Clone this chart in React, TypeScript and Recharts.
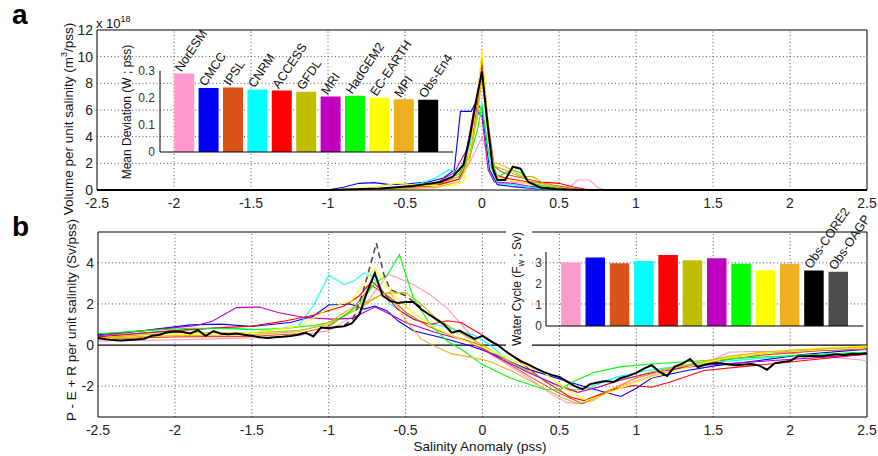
import React from "react";
import {
  LineChart,
  Line,
  XAxis,
  YAxis,
  ReferenceLine,
  BarChart,
  Bar,
  Cell,
  LabelList,
} from "recharts";

const SANS = '"Liberation Sans", Arial, Helvetica, sans-serif';

const MODEL_NAMES = ["NorESM", "CMCC", "IPSL", "CNRM", "ACCESS", "GFDL", "MRI", "HadGEM2", "EC-EARTH", "MPI"];
const MODEL_COLORS = ["#FF99CC", "#0000FF", "#D95319", "#00FFFF", "#FF0000", "#BFBF00", "#BF00BF", "#00FF00", "#FFFF00", "#EDB120"];

const SAL_TICKS = [-2.5, -2, -1.5, -1, -0.5, 0, 0.5, 1, 1.5, 2, 2.5];
const VOL_TICKS = [0, 2, 4, 6, 8, 10, 12];
const FLUX_TICKS = [-2, 0, 2, 4];
const SAL_DOMAIN: [number, number] = [-2.5, 2.5];
const VOL_DOMAIN: [number, number] = [0, 12];
const FLUX_DOMAIN: [number, number] = [-3.5, 5.5];

// panel a: volume per unit salinity (x 1e18 m3/pss), [salinity anomaly, value]
const volNorESM: [number, number][] = [[-2.5, 0], [-1, 0], [-0.6, 0.05], [-0.3, 0.3], [-0.15, 0.8], [-0.08, 2], [0, 4], [0.05, 2.2], [0.1, 1], [0.2, 0.6], [0.35, 0.4], [0.5, 0.2], [0.58, 0.3], [0.62, 0.75], [0.7, 0.75], [0.75, 0.2], [0.8, 0], [2.5, 0]];
const volCMCC: [number, number][] = [[-2.5, 0], [-1, 0], [-0.9, 0.2], [-0.8, 0.5], [-0.7, 0.55], [-0.6, 0.4], [-0.5, 0.45], [-0.35, 0.6], [-0.25, 0.9], [-0.18, 1.5], [-0.14, 5.9], [-0.07, 5.9], [-0.04, 6.6], [0, 6], [0.05, 1.5], [0.1, 0.4], [0.2, 0.25], [0.35, 0.1], [0.5, 0.05], [0.6, 0], [2.5, 0]];
const volIPSL: [number, number][] = [[-2.5, 0], [-1, 0], [-0.6, 0.1], [-0.3, 0.4], [-0.15, 1], [-0.08, 2.8], [-0.03, 7], [0, 10], [0.04, 5], [0.08, 1.8], [0.12, 1.4], [0.18, 1.1], [0.3, 0.8], [0.45, 0.4], [0.6, 0.1], [0.7, 0], [2.5, 0]];
const volCNRM: [number, number][] = [[-2.5, 0], [-1, 0], [-0.6, 0.1], [-0.4, 0.5], [-0.3, 0.9], [-0.22, 1.5], [-0.15, 1.4], [-0.1, 2.5], [-0.05, 4.8], [0, 6.5], [0.05, 2], [0.1, 0.5], [0.2, 0.4], [0.3, 0.2], [0.45, 0.05], [0.55, 0], [2.5, 0]];
const volACCESS: [number, number][] = [[-2.5, 0], [-1, 0], [-0.6, 0.1], [-0.3, 0.35], [-0.15, 0.8], [-0.08, 2.5], [-0.03, 6.5], [0, 9.4], [0.04, 4.5], [0.08, 1.2], [0.15, 0.9], [0.3, 0.6], [0.45, 0.55], [0.5, 0.5], [0.6, 0.2], [0.7, 0], [2.5, 0]];
const volGFDL: [number, number][] = [[-2.5, 0], [-1, 0], [-0.6, 0.1], [-0.3, 0.4], [-0.15, 1], [-0.08, 2.5], [-0.03, 5.5], [0, 8.5], [0.04, 4], [0.08, 1.8], [0.15, 1.5], [0.25, 1], [0.33, 1], [0.4, 0.5], [0.55, 0.1], [0.65, 0], [2.5, 0]];
const volMRI: [number, number][] = [[-2.5, 0], [-1, 0], [-0.6, 0.15], [-0.3, 0.5], [-0.18, 1.3], [-0.1, 3], [-0.05, 6.2], [0, 5.5], [0.04, 1.5], [0.08, 0.6], [0.2, 0.5], [0.3, 0.3], [0.45, 0.1], [0.55, 0], [2.5, 0]];
const volHadGEM2: [number, number][] = [[-2.5, 0], [-1, 0], [-0.6, 0.1], [-0.3, 0.5], [-0.15, 1.2], [-0.08, 2.5], [-0.03, 4.5], [0, 6.3], [0.04, 3], [0.1, 1], [0.2, 1.5], [0.25, 1.3], [0.3, 0.6], [0.4, 0.3], [0.55, 0.05], [0.6, 0], [2.5, 0]];
const volECEARTH: [number, number][] = [[-2.5, 0], [-1, 0], [-0.7, 0.2], [-0.55, 0.5], [-0.4, 0.35], [-0.2, 0.3], [-0.12, 0.6], [-0.07, 3.5], [-0.02, 8], [0, 10.5], [0.03, 6], [0.07, 1.5], [0.12, 0.8], [0.25, 0.6], [0.35, 0.3], [0.5, 0.05], [0.6, 0], [2.5, 0]];
const volMPI: [number, number][] = [[-2.5, 0], [-1, 0], [-0.6, 0.05], [-0.3, 0.2], [-0.15, 0.6], [-0.08, 2.2], [-0.03, 6], [0, 9], [0.04, 4], [0.07, 2], [0.1, 2], [0.18, 1.6], [0.3, 0.7], [0.45, 0.3], [0.6, 0.05], [0.7, 0], [2.5, 0]];
const volObsEn4: [number, number][] = [[-2.5, 0], [-1, 0], [-0.66, 0.12], [-0.45, 0.3], [-0.27, 0.6], [-0.19, 1], [-0.12, 1.9], [-0.08, 3.9], [-0.035, 6.9], [0, 8.9], [0.03, 5.6], [0.07, 1.6], [0.1, 0.75], [0.15, 0.75], [0.2, 1.75], [0.25, 1.6], [0.3, 0.6], [0.38, 0.18], [0.48, 0.08], [0.6, 0.02], [1, 0], [2.5, 0]];

// panel b: P - E + R per unit salinity (Sv/pss)
const pmeNorESM: [number, number][] = [[-2.5, 0.2], [-2, 0.25], [-1.5, 0.35], [-1.2, 0.45], [-1, 0.7], [-0.8, 1.6], [-0.7, 2.6], [-0.61, 3.45], [-0.45, 2.95], [-0.34, 2.45], [-0.23, 1.8], [-0.12, 0.85], [0, -0.2], [0.15, -0.9], [0.3, -1.6], [0.45, -2.4], [0.55, -2.8], [0.65, -2.85], [0.75, -2.5], [0.9, -2], [1.1, -1.5], [1.3, -1.1], [1.5, -0.7], [1.6, -0.35], [1.8, -0.3], [2, -0.4], [2.2, -0.55], [2.5, -0.75]];
const pmeCMCC: [number, number][] = [[-2.5, 0.5], [-2.2, 0.7], [-1.9, 0.98], [-1.7, 1.02], [-1.5, 0.9], [-1.25, 1.1], [-1.1, 1.4], [-1, 1.95], [-0.86, 2], [-0.77, 1.75], [-0.7, 1.9], [-0.62, 1.66], [-0.55, 1.18], [-0.45, 0.7], [-0.27, 0.37], [-0.08, -0.03], [0.07, -0.44], [0.29, -1.16], [0.5, -1.65], [0.7, -2.1], [0.9, -2.5], [1, -2.1], [1.1, -1.6], [1.33, -1.24], [1.52, -1], [1.8, -0.75], [2.1, -0.45], [2.5, -0.2]];
const pmeIPSL: [number, number][] = [[-2.5, 0.3], [-2, 0.4], [-1.5, 0.42], [-1.2, 0.55], [-1, 0.9], [-0.85, 1.7], [-0.72, 2.9], [-0.6, 2.3], [-0.5, 1.6], [-0.35, 0.9], [-0.2, 0.45], [-0.05, 0.1], [0.1, -0.6], [0.3, -1.5], [0.5, -2.35], [0.65, -2.85], [0.8, -2.3], [1, -1.6], [1.2, -1.2], [1.4, -0.95], [1.6, -0.7], [1.8, -0.5], [2, -0.38], [2.2, -0.28], [2.5, -0.2]];
const pmeCNRM: [number, number][] = [[-2.5, 0.45], [-2, 0.7], [-1.7, 0.85], [-1.4, 0.72], [-1.2, 0.9], [-1.1, 1.9], [-1, 3.4], [-0.9, 2.95], [-0.84, 3.1], [-0.77, 3.5], [-0.72, 3.35], [-0.66, 2.8], [-0.6, 2], [-0.49, 1.42], [-0.38, 1.1], [-0.27, 0.94], [-0.16, 0.7], [-0.06, 0.5], [0.05, 0], [0.18, -0.84], [0.4, -1.65], [0.57, -2.2], [0.7, -2.05], [0.87, -1.56], [1.07, -1.24], [1.3, -1], [1.6, -0.78], [2, -0.52], [2.5, -0.35]];
const pmeACCESS: [number, number][] = [[-2.5, 0.4], [-2, 0.7], [-1.7, 0.85], [-1.5, 0.92], [-1.3, 1.15], [-1.1, 1.45], [-0.9, 1.9], [-0.8, 2.4], [-0.72, 3.1], [-0.66, 2.7], [-0.55, 1.74], [-0.45, 1.26], [-0.34, 1], [-0.23, 1.18], [-0.14, 1.1], [-0.01, 0.53], [0.18, -0.44], [0.4, -1.73], [0.57, -2.53], [0.66, -2.7], [0.72, -2.53], [0.83, -2.2], [0.98, -1.97], [1.1, -2.05], [1.22, -1.8], [1.44, -1.24], [1.76, -1], [2.19, -0.68], [2.5, -0.44]];
const pmeGFDL: [number, number][] = [[-2.5, 0.35], [-2, 0.6], [-1.5, 0.6], [-1.2, 0.7], [-1, 1], [-0.8, 1.8], [-0.65, 2.5], [-0.5, 2.55], [-0.4, 2], [-0.3, 1.3], [-0.15, 0.6], [0, 0], [0.15, -0.7], [0.3, -1.3], [0.45, -1.85], [0.6, -2.2], [0.75, -2.05], [0.9, -1.7], [1.1, -1.3], [1.3, -1], [1.5, -0.75], [1.7, -0.5], [1.9, -0.35], [2.1, -0.25], [2.3, -0.15], [2.5, -0.1]];
const pmeMRI: [number, number][] = [[-2.5, 0.45], [-2.2, 0.7], [-2, 0.85], [-1.87, 0.94], [-1.76, 1.15], [-1.6, 1.82], [-1.45, 1.85], [-1.33, 1.58], [-1.16, 1.34], [-0.98, 1.26], [-0.85, 1.3], [-0.7, 1.85], [-0.6, 1.5], [-0.5, 1.1], [-0.3, 0.6], [-0.1, 0.2], [0.1, -0.6], [0.3, -1.35], [0.5, -2], [0.62, -2.3], [0.75, -2.05], [0.9, -1.7], [1.1, -1.35], [1.4, -1], [1.8, -0.8], [2.2, -0.6], [2.5, -0.45]];
const pmeHadGEM2: [number, number][] = [[-2.5, 0.55], [-2.2, 0.7], [-1.9, 0.82], [-1.7, 0.82], [-1.5, 0.75], [-1.3, 0.8], [-1.1, 0.95], [-1, 1.1], [-0.9, 1.4], [-0.8, 2], [-0.7, 3], [-0.62, 3.4], [-0.54, 4.4], [-0.45, 2.3], [-0.34, 1], [-0.23, 0.2], [-0.12, -0.3], [0, -0.95], [0.18, -1.6], [0.4, -2.15], [0.5, -2.2], [0.57, -1.85], [0.72, -1.35], [0.9, -1.05], [1.1, -0.92], [1.45, -0.75], [1.75, -0.6], [2.2, -0.45], [2.5, -0.35]];
const pmeECEARTH: [number, number][] = [[-2.5, 0.3], [-2, 0.5], [-1.5, 0.6], [-1.2, 0.9], [-1.1, 1.3], [-1, 1.8], [-0.85, 2.15], [-0.7, 3.75], [-0.6, 2.6], [-0.45, 1.55], [-0.3, 0.8], [-0.15, 0.3], [0, -0.1], [0.2, -0.75], [0.4, -1.35], [0.55, -2.2], [0.68, -2.7], [0.83, -2.3], [1, -1.8], [1.2, -1.35], [1.4, -0.95], [1.6, -0.6], [1.8, -0.4], [2, -0.25], [2.2, -0.15], [2.5, -0.05]];
const pmeMPI: [number, number][] = [[-2.5, 0.35], [-2, 0.45], [-1.5, 0.5], [-1.2, 0.65], [-1, 1.1], [-0.85, 1.8], [-0.7, 2.3], [-0.6, 2.6], [-0.5, 1.2], [-0.4, 0.3], [-0.3, -0.1], [-0.2, -0.43], [-0.1, -0.55], [0.05, -0.8], [0.2, -1.3], [0.35, -1.9], [0.5, -2.5], [0.62, -2.85], [0.72, -2.7], [0.85, -2.1], [1, -1.6], [1.2, -1.2], [1.4, -0.85], [1.6, -0.55], [1.8, -0.35], [2, -0.25], [2.2, -0.18], [2.5, -0.1]];
const pmeObsOAGP: [number, number][] = [[-0.9, 0.95], [-0.84, 1.3], [-0.78, 2.5], [-0.69, 4.96], [-0.64, 3.4], [-0.6, 2.7], [-0.5, 2.4], [-0.44, 2.06], [-0.4, 1.85]];
const pmeObsCORE2: [number, number][] = [
  [-2.5, 0.34], [-2.45, 0.28], [-2.4, 0.24], [-2.35, 0.22], [-2.3, 0.25], [-2.25, 0.27], [-2.2, 0.3], [-2.15, 0.45], [-2.1, 0.5], [-2.05, 0.62],
  [-2, 0.66], [-1.95, 0.64], [-1.9, 0.56], [-1.85, 0.72], [-1.8, 0.45], [-1.75, 0.68], [-1.7, 0.55], [-1.65, 0.52], [-1.6, 0.56], [-1.55, 0.5],
  [-1.5, 0.45], [-1.45, 0.38], [-1.4, 0.34], [-1.35, 0.38], [-1.3, 0.4], [-1.25, 0.44], [-1.2, 0.5], [-1.15, 0.6], [-1.1, 0.42], [-1.05, 0.85],
  [-1, 0.82], [-0.95, 0.88], [-0.9, 0.92], [-0.85, 1.05], [-0.8, 1.5], [-0.75, 2.6], [-0.7, 3.5], [-0.65, 2.4], [-0.6, 2.15], [-0.55, 2.05],
  [-0.5, 2.1], [-0.45, 2.1], [-0.4, 1.75], [-0.35, 1.5], [-0.3, 1.25], [-0.25, 1], [-0.2, 0.6], [-0.15, 0.7], [-0.1, 0.5], [-0.05, 0.3],
  [0, 0.45], [0.05, 0.2], [0.1, 0], [0.15, -0.3], [0.2, -0.55], [0.25, -0.78], [0.3, -0.95], [0.35, -1.15], [0.4, -1.32], [0.45, -1.45],
  [0.5, -1.55], [0.55, -1.78], [0.6, -2], [0.65, -2.15], [0.7, -1.9], [0.75, -1.82], [0.8, -1.75], [0.85, -1.8], [0.9, -1.6], [0.95, -1.5],
  [1, -1.35], [1.05, -1.15], [1.1, -0.98], [1.15, -1.3], [1.2, -1.5], [1.25, -1.05], [1.3, -0.9], [1.35, -0.68], [1.4, -1.08], [1.45, -0.95],
  [1.5, -0.88], [1.55, -0.88], [1.6, -0.95], [1.65, -0.98], [1.7, -0.95], [1.75, -0.92], [1.8, -1], [1.85, -1.2], [1.9, -0.88], [1.95, -0.82],
  [2, -0.78], [2.05, -0.55], [2.1, -0.55], [2.15, -0.52], [2.2, -0.55], [2.25, -0.5], [2.3, -0.45], [2.35, -0.48], [2.4, -0.42], [2.45, -0.44], [2.5, -0.4],
];

// inset a: mean deviation (W ; pss)
const DEV_NAMES = [...MODEL_NAMES, "Obs-En4"];
const DEV_VALUES = [0.29, 0.236, 0.238, 0.231, 0.227, 0.222, 0.205, 0.208, 0.2, 0.195, 0.193];
const DEV_COLORS = [...MODEL_COLORS, "#000000"];
const DEV_TICKS = [0, 0.1, 0.2, 0.3];

// inset b: water cycle (Fw ; Sv)
const WC_NAMES = [...MODEL_NAMES, "Obs-CORE2", "Obs-OAGP"];
const WC_TAGS = ["", "", "", "", "", "", "", "", "", "", "Obs-CORE2", "Obs-OAGP"];
const WC_VALUES = [3.0, 3.24, 2.97, 3.08, 3.36, 3.11, 3.2, 2.94, 2.64, 2.95, 2.62, 2.56];
const WC_COLORS = [...MODEL_COLORS, "#000000", "#4D4D4D"];
const WC_TICKS = [0, 1, 2, 3];

// series of a panel -> one table on the union of their x values
function mergeSeries(series: [number, number][][]) {
  const xs = Array.from(new Set(series.flatMap((s) => s.map((p) => p[0])))).sort((a, b) => a - b);
  return xs.map((x) => {
    const row: Record<string, number> = { x };
    series.forEach((s, i) => {
      const p = s.find((q) => q[0] === x);
      if (p) row[`s${i}`] = p[1];
    });
    return row;
  });
}

// dotted grid (from the tick lists) and the closing top/right frame, as two-point segments
function gridSegments(xTicks: number[], yTicks: number[], xd: [number, number], yd: [number, number]) {
  const v = xTicks.filter((t) => t > xd[0] && t < xd[1]).map((t) => [{ x: t, g: yd[0] }, { x: t, g: yd[1] }]);
  const h = yTicks.filter((t) => t > yd[0] && t < yd[1]).map((t) => [{ x: xd[0], g: t }, { x: xd[1], g: t }]);
  return [...v, ...h];
}
function frameSegments(xd: [number, number], yd: [number, number]) {
  return [
    [{ x: xd[0], g: yd[1] }, { x: xd[1], g: yd[1] }],
    [{ x: xd[1], g: yd[0] }, { x: xd[1], g: yd[1] }],
  ];
}

const VOL_SERIES = [volNorESM, volCMCC, volIPSL, volCNRM, volACCESS, volGFDL, volMRI, volHadGEM2, volECEARTH, volMPI, volObsEn4];
const VOL_STYLE = [...MODEL_COLORS.map((c) => ({ c, w: 1.1, d: undefined as string | undefined })), { c: "#000", w: 2, d: undefined }];
const PME_SERIES = [pmeNorESM, pmeCMCC, pmeIPSL, pmeCNRM, pmeACCESS, pmeGFDL, pmeMRI, pmeHadGEM2, pmeECEARTH, pmeMPI, pmeObsOAGP, pmeObsCORE2];
const PME_STYLE = [...MODEL_COLORS.map((c) => ({ c, w: 1.1, d: undefined as string | undefined })), { c: "#4D4D4D", w: 1.6, d: "6 4" }, { c: "#000", w: 2, d: undefined }];

const volData = mergeSeries(VOL_SERIES);
const pmeData = mergeSeries(PME_SERIES);
const volGrid = gridSegments(SAL_TICKS, VOL_TICKS, SAL_DOMAIN, VOL_DOMAIN);
const pmeGrid = gridSegments(SAL_TICKS, FLUX_TICKS.filter((t) => t !== 0), SAL_DOMAIN, FLUX_DOMAIN);
const volFrame = frameSegments(SAL_DOMAIN, VOL_DOMAIN);
const pmeFrame = frameSegments(SAL_DOMAIN, FLUX_DOMAIN);
const devData = DEV_NAMES.map((name, i) => ({ name, value: DEV_VALUES[i] }));
const wcData = WC_NAMES.map((name, i) => ({ name, tag: WC_TAGS[i], value: WC_VALUES[i] }));

const tickStyle = { fill: "#222", fontSize: 14, fontFamily: SANS };
const insetTick = { fill: "#333", fontSize: 12, fontFamily: SANS };

function SlantLabel(props: any) {
  const { x, y, width, value } = props;
  if (!value) return null;
  const cx = Number(x) + Number(width) / 2 - 3;
  const cy = Number(y) - 1;
  return (
    <text x={cx} y={cy} transform={`rotate(-56 ${cx} ${cy})`} fontSize={12.5} fill="#111" fontFamily={SANS}>
      {value}
    </text>
  );
}

function VText({ cx, cy, size, children, bg }: { cx: number; cy: number; size: number; children: React.ReactNode; bg?: boolean }) {
  return (
    <div
      style={{
        position: "absolute",
        left: cx,
        top: cy,
        transform: "translate(-50%, -50%) rotate(-90deg)",
        whiteSpace: "nowrap",
        fontFamily: SANS,
        fontSize: size,
        color: "#111",
        lineHeight: 1.1,
        background: bg ? "#fff" : "transparent",
        padding: bg ? "5px 3px" : 0,
      }}
    >
      {children}
    </div>
  );
}

export default function App() {
  return (
    <div style={{ position: "relative", width: 878, height: 456, background: "#fff", overflow: "hidden" }}>
      <style>{`body{margin:0}`}</style>

      {/* panel a */}
      <div style={{ position: "absolute", left: 0, top: 0 }}>
        <LineChart width={878} height={215} data={volData} margin={{ top: 30, right: 11, bottom: 0, left: 57 }}>
          <XAxis dataKey="x" type="number" domain={SAL_DOMAIN} ticks={SAL_TICKS} interval={0} height={25} tickLine={false} tickMargin={2} axisLine={{ stroke: "#000", strokeWidth: 1 }} tick={tickStyle} />
          <YAxis type="number" domain={VOL_DOMAIN} ticks={VOL_TICKS} interval={0} width={40} tickLine={false} tickSize={4} tickMargin={0} axisLine={{ stroke: "#000", strokeWidth: 1 }} tick={tickStyle} />
          {volGrid.map((seg, i) => (
            <Line key={`g${i}`} data={seg} dataKey="g" stroke="#555" strokeWidth={1} strokeDasharray="1 2.5" dot={false} activeDot={false} isAnimationActive={false} />
          ))}
          {volFrame.map((seg, i) => (
            <Line key={`f${i}`} data={seg} dataKey="g" stroke="#000" strokeWidth={1} dot={false} activeDot={false} isAnimationActive={false} />
          ))}
          {VOL_SERIES.map((_, i) => (
            <Line key={i} dataKey={`s${i}`} connectNulls stroke={VOL_STYLE[i].c} strokeWidth={VOL_STYLE[i].w} dot={false} isAnimationActive={false} />
          ))}
        </LineChart>
      </div>

      {/* panel b */}
      <div style={{ position: "absolute", left: 0, top: 200 }}>
        <LineChart width={878} height={250} data={pmeData} margin={{ top: 32, right: 11, bottom: 8, left: 58 }}>
          <XAxis dataKey="x" type="number" domain={SAL_DOMAIN} ticks={SAL_TICKS} interval={0} height={25} tickLine={false} tickMargin={2} axisLine={{ stroke: "#000", strokeWidth: 1 }} tick={tickStyle} />
          <YAxis type="number" domain={FLUX_DOMAIN} ticks={FLUX_TICKS} interval={0} width={40} tickLine={false} tickSize={4} tickMargin={0} axisLine={{ stroke: "#000", strokeWidth: 1 }} tick={tickStyle} />
          {pmeGrid.map((seg, i) => (
            <Line key={`g${i}`} data={seg} dataKey="g" stroke="#555" strokeWidth={1} strokeDasharray="1 2.5" dot={false} activeDot={false} isAnimationActive={false} />
          ))}
          {pmeFrame.map((seg, i) => (
            <Line key={`f${i}`} data={seg} dataKey="g" stroke="#000" strokeWidth={1} dot={false} activeDot={false} isAnimationActive={false} />
          ))}
          <ReferenceLine y={0} stroke="#000" strokeWidth={1.2} />
          {PME_SERIES.map((_, i) => (
            <Line key={i} dataKey={`s${i}`} connectNulls stroke={PME_STYLE[i].c} strokeWidth={PME_STYLE[i].w} strokeDasharray={PME_STYLE[i].d} dot={false} isAnimationActive={false} />
          ))}
        </LineChart>
      </div>

      {/* inset a */}
      <div style={{ position: "absolute", left: 100, top: 20 }}>
        <BarChart width={360} height={140} data={devData} margin={{ top: 50.7, right: 7, bottom: 7, left: 30 }}>
          <XAxis dataKey="name" tick={false} tickLine={false} height={1} axisLine={{ stroke: "#000", strokeWidth: 1 }} padding={{ left: 12.2, right: 12.4 }} />
          <YAxis type="number" domain={[0, 0.3]} ticks={DEV_TICKS} interval={0} width={30} tickLine={false} tickSize={0} tickMargin={5} axisLine={{ stroke: "#000", strokeWidth: 1 }} tick={insetTick} />
          <Bar dataKey="value" barSize={20} isAnimationActive={false}>
            {devData.map((d, i) => (
              <Cell key={d.name} fill={DEV_COLORS[i]} />
            ))}
            <LabelList dataKey="name" content={SlantLabel} />
          </Bar>
        </BarChart>
      </div>

      {/* inset b */}
      <div style={{ position: "absolute", left: 470, top: 150 }}>
        <BarChart width={408} height={180} data={wcData} margin={{ top: 102, right: 14.7, bottom: 3, left: 46 }}>
          <XAxis dataKey="name" tick={false} tickLine={false} height={1} axisLine={{ stroke: "#000", strokeWidth: 1 }} padding={{ left: 13.2, right: 12.5 }} />
          <YAxis type="number" domain={[0, 3.5]} ticks={WC_TICKS} interval={0} width={30} tickLine={false} tickSize={0} tickMargin={4} axisLine={{ stroke: "#000", strokeWidth: 1 }} tick={insetTick} />
          <Bar dataKey="value" barSize={19.5} isAnimationActive={false}>
            {wcData.map((d, i) => (
              <Cell key={d.name} fill={WC_COLORS[i]} />
            ))}
            <LabelList dataKey="tag" content={SlantLabel} />
          </Bar>
        </BarChart>
      </div>

      {/* text */}
      <div style={{ position: "absolute", left: 12, top: 1, fontFamily: SANS, fontSize: 28, fontWeight: 700, lineHeight: "28px" }}>a</div>
      <div style={{ position: "absolute", left: 12, top: 213, fontFamily: SANS, fontSize: 28, fontWeight: 700, lineHeight: "28px" }}>b</div>
      <div style={{ position: "absolute", left: 96, top: 12, fontFamily: SANS, fontSize: 13, color: "#111", whiteSpace: "nowrap", lineHeight: "15px" }}>
        x 10<span style={{ fontSize: 9, verticalAlign: "6px" }}>18</span>
      </div>
      <VText cx={68} cy={119} size={13.5}>
        Volume per unit salinity (m<span style={{ fontSize: 9, verticalAlign: "6px" }}>3</span>/pss)
      </VText>
      <VText cx={72} cy={320} size={13.5}>P - E + R per unit salinity (Sv/pss)</VText>
      <VText cx={128} cy={112} size={12}>Mean Deviation (W ; pss)</VText>
      <VText cx={519} cy={289} size={12} bg>
        Water Cycle (F<span style={{ fontSize: 9, verticalAlign: "-3px" }}>w</span> ; Sv)
      </VText>
      <div style={{ position: "absolute", left: 480, top: 446, transform: "translate(-50%, -50%)", fontFamily: SANS, fontSize: 13.5, color: "#111", whiteSpace: "nowrap" }}>
        Salinity Anomaly (pss)
      </div>
    </div>
  );
}
